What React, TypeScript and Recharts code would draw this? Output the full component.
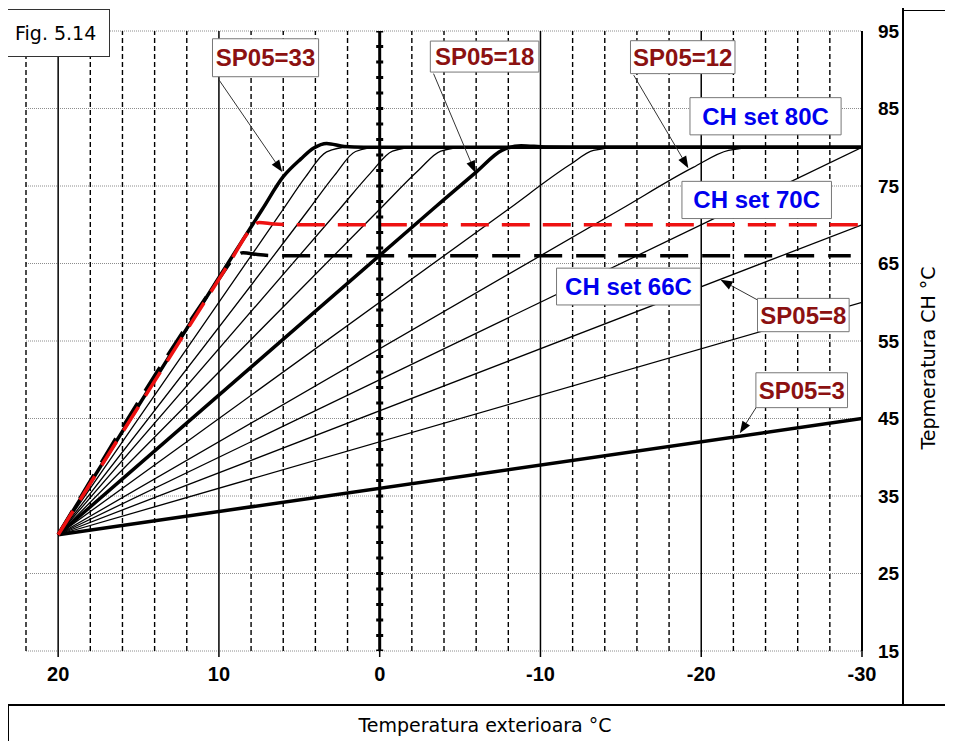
import React from 'react';
import { LineChart, Line, XAxis, YAxis, CartesianGrid, ReferenceLine, ReferenceArea } from 'recharts';

// heating curves: outside temperature t (°C) -> CH flow temperature v (°C)
const sp3 = [{ t: 20, v: 30 }, { t: -30, v: 45 }];
const sp6 = [{ t: 20, v: 30 }, { t: -30, v: 60 }];
const sp8 = [{ t: 20, v: 30 }, { t: -30, v: 70 }];
const sp10 = [{ t: 20, v: 30 }, { t: -30, v: 80 }];
const sp12 = [{ t: 20, v: 30 }, { t: -15, v: 72 }, { t: -19.5, v: 77.4 }, { t: -21.7, v: 79.6 }, { t: -23.5, v: 80 }, { t: -30, v: 80 }];
const sp15 = [{ t: 20, v: 30 }, { t: -8, v: 72 }, { t: -11.8, v: 77.7 }, { t: -13.3, v: 79.6 }, { t: -15, v: 80 }, { t: -30, v: 80 }];
const sp18 = [{ t: 20, v: 30 }, { t: -3.3, v: 72 }, { t: -6, v: 76.8 }, { t: -7.6, v: 79.6 }, { t: -8.8, v: 80.2 }, { t: -10.3, v: 80.03 }, { t: -12, v: 80 }, { t: -30, v: 80 }];
const sp21 = [{ t: 20, v: 30 }, { t: 0, v: 72 }, { t: -2.4, v: 77 }, { t: -3.8, v: 79.5 }, { t: -5.3, v: 80 }, { t: -30, v: 80 }];
const sp24 = [{ t: 20, v: 30 }, { t: 2.5, v: 72 }, { t: 0.6, v: 76.6 }, { t: -0.8, v: 79.5 }, { t: -2.2, v: 80 }, { t: -30, v: 80 }];
const sp27 = [{ t: 20, v: 30 }, { t: 4.4, v: 72 }, { t: 2.8, v: 76.4 }, { t: 1.5, v: 79.45 }, { t: 0.1, v: 80 }, { t: -30, v: 80 }];
const sp30 = [{ t: 20, v: 30 }, { t: 6, v: 72 }, { t: 4.6, v: 76.2 }, { t: 3.3, v: 79.4 }, { t: 2, v: 80 }, { t: -30, v: 80 }];
const sp33 = [{ t: 20, v: 30 }, { t: 7.3, v: 72 }, { t: 6, v: 76.2 }, { t: 4.9, v: 78.5 }, { t: 4.1, v: 79.9 }, { t: 3.3, v: 80.5 }, { t: 2.2, v: 80.1 }, { t: 1, v: 80 }, { t: -30, v: 80 }];
const set70 = [{ t: 20, v: 30 }, { t: 9.2, v: 65.6 }, { t: 8.1, v: 69.2 }, { t: 7.5, v: 70.3 }, { t: 6.6, v: 70.1 }, { t: 5.5, v: 70 }, { t: -30, v: 70 }];
const set66 = [{ t: 20, v: 30 }, { t: 10, v: 63 }, { t: 9.1, v: 65.6 }, { t: 8.5, v: 66.4 }, { t: 7.6, v: 66.15 }, { t: 6.5, v: 66 }, { t: -29.3, v: 66 }];

const xTicks = [20, 10, 0, -10, -20, -30];
const yTicks = [15, 25, 35, 45, 55, 65, 75, 85, 95];
const xSolid = [20, 10, -10, -20];
const xDashed = [22, 18, 16, 14, 12, 8, 6, 4, 2, -2, -4, -6, -8, -12, -14, -16, -18, -22, -24, -26, -28];

const thinCurves = [sp6, sp8, sp10, sp12, sp15, sp21, sp24, sp27, sp30];
const thickCurves = [sp3, sp18, sp33];

// label boxes (data units) and arrows from box to curve
const spNotes = [
  { text: 'SP05=33', x1: 10.4, x2: 3.8, y1: 89.1, y2: 94 },
  { text: 'SP05=18', x1: -3.15, x2: -9.9, y1: 89.7, y2: 93.7 },
  { text: 'SP05=12', x1: -15.6, x2: -22.1, y1: 89.5, y2: 93.75 },
  { text: 'SP05=8', x1: -23.5, x2: -29.2, y1: 56.2, y2: 60.5 },
  { text: 'SP05=3', x1: -23.4, x2: -29.1, y1: 46.4, y2: 50.9 },
];
const setNotes = [
  { text: 'CH set 80C', x1: -19.3, x2: -28.7, y1: 81.6, y2: 86.4 },
  { text: 'CH set 70C', x1: -18.8, x2: -28.1, y1: 70.8, y2: 75.6 },
  { text: 'CH set 66C', x1: -11, x2: -19.95, y1: 59.65, y2: 64.4 },
];
const arrows = [
  { from: { t: 10, v: 88.7 }, to: { t: 6.06, v: 76.8 } },
  { from: { t: -3.35, v: 89.5 }, to: { t: -5.95, v: 76.7 } },
  { from: { t: -15.8, v: 89.3 }, to: { t: -19.2, v: 77.3 } },
  { from: { t: -23.5, v: 60.3 }, to: { t: -21.2, v: 62.9 } },
  { from: { t: -23.5, v: 46.7 }, to: { t: -22.4, v: 43.1 } },
];

const arial = 'Liberation Sans, Arial, sans-serif';
const gothic = 'DejaVu Sans, sans-serif';

const ArrowShape = (props: any) => {
  const { x1, y1, x2, y2 } = props;
  const a = Math.atan2(y2 - y1, x2 - x1);
  const len = 12;
  const half = 4.5;
  const bx = x2 - len * Math.cos(a);
  const by = y2 - len * Math.sin(a);
  const pts = `${x2},${y2} ${bx + half * Math.sin(a)},${by - half * Math.cos(a)} ${bx - half * Math.sin(a)},${by + half * Math.cos(a)}`;
  return (
    <g>
      <line x1={x1} y1={y1} x2={bx} y2={by} stroke="#333" strokeWidth={1} />
      <polygon points={pts} fill="#000" />
    </g>
  );
};

const App = () => {
  return (
    <div style={{ position: 'relative', width: 945, height: 733 }}>
      <div style={{ position: 'absolute', left: -2, top: -2, width: 898, height: 700, border: '2px solid #000', boxSizing: 'border-box' }} />
      <div style={{ position: 'absolute', left: 896, top: 2, width: 49, height: 696, borderTop: '1px solid #000', borderBottom: '2px solid #000', boxSizing: 'border-box' }} />
      <div style={{ position: 'absolute', left: 0, top: 697, width: 945, height: 44, borderLeft: '1px solid #000', boxSizing: 'border-box' }} />
      <div style={{ position: 'absolute', left: 0, top: 0 }}>
        <LineChart width={945} height={741} margin={{ top: 23, right: 0, bottom: 58, left: 18 }}>
          <CartesianGrid horizontal vertical={false} stroke="#8c8c8c" strokeDasharray="1 1" />
          <XAxis
            dataKey="t"
            type="number"
            domain={[-30, 22]}
            reversed
            ticks={xTicks}
            allowDataOverflow
            height={40}
            axisLine={false}
            tickLine={{ stroke: '#000', strokeWidth: 1.5 }}
            tickSize={6}
            tickMargin={10}
            tick={{ fill: '#000', fontSize: 20, fontWeight: 700, fontFamily: arial }}
          />
          <YAxis
            orientation="right"
            type="number"
            domain={[15, 95]}
            ticks={yTicks}
            width={91}
            axisLine={false}
            tickLine={false}
            tickSize={6}
            tickMargin={10}
            tick={{ fill: '#000', fontSize: 19, fontWeight: 700, fontFamily: arial }}
          />
          {xDashed.map((x) => (
            <ReferenceLine key={`d${x}`} x={x} stroke="#000" strokeWidth={1.4} strokeDasharray="5 3" />
          ))}
          {xSolid.map((x) => (
            <ReferenceLine key={`s${x}`} x={x} stroke="#000" strokeWidth={1.5} />
          ))}
          <ReferenceLine x={-30} stroke="#000" strokeWidth={2} />
          {thinCurves.map((d, i) => (
            <Line key={`thin${i}`} data={d} dataKey="v" type="monotone" stroke="#000" strokeWidth={1.3} dot={false} activeDot={false} isAnimationActive={false} />
          ))}
          {thickCurves.map((d, i) => (
            <Line key={`thick${i}`} data={d} dataKey="v" type="monotone" stroke="#000" strokeWidth={3.5} dot={false} activeDot={false} isAnimationActive={false} />
          ))}
          <Line data={set66} dataKey="v" type="monotone" stroke="#000" strokeWidth={3.5} strokeDasharray="28 14" dot={false} activeDot={false} isAnimationActive={false} />
          <Line data={set70} dataKey="v" type="monotone" stroke="#ee1111" strokeWidth={3.5} strokeDasharray="28 13" dot={false} activeDot={false} isAnimationActive={false} />
          <ReferenceLine x={0} stroke="#000" strokeWidth={3} zIndex={900} />
          <ReferenceLine x={0} stroke="#000" strokeWidth={7} strokeDasharray="3 12.5" strokeDashoffset={1.5} zIndex={900} />
          {arrows.map((a, i) => (
            <ReferenceLine key={`a${i}`} segment={[{ x: a.from.t, y: a.from.v }, { x: a.to.t, y: a.to.v }]} stroke="#333" shape={ArrowShape} zIndex={1000} />
          ))}
          {spNotes.map((n) => (
            <ReferenceArea
              key={n.text}
              x1={n.x1}
              x2={n.x2}
              y1={n.y1}
              y2={n.y2}
              fill="#fff"
              fillOpacity={1}
              stroke="#777"
              strokeWidth={1}
              zIndex={1100}
              label={{ value: n.text, position: 'center', fill: '#8b1111', fontSize: 24, fontWeight: 700, fontFamily: arial }}
            />
          ))}
          {setNotes.map((n) => (
            <ReferenceArea
              key={n.text}
              x1={n.x1}
              x2={n.x2}
              y1={n.y1}
              y2={n.y2}
              fill="#fff"
              fillOpacity={1}
              stroke="#777"
              strokeWidth={1}
              zIndex={1100}
              label={{ value: n.text, position: 'center', fill: '#0000ee', fontSize: 24, fontWeight: 700, fontFamily: arial }}
            />
          ))}
        </LineChart>
      </div>
      <div
        style={{
          position: 'absolute',
          left: -1,
          top: 1,
          width: 103,
          height: 48,
          background: '#fff',
          border: '1px solid #333',
          boxSizing: 'border-box',
          fontFamily: gothic,
          fontSize: 19,
          lineHeight: '46px',
          paddingLeft: 7,
        }}
      >
        Fig. 5.14
      </div>
      <div
        style={{
          position: 'absolute',
          left: 327,
          top: 708,
          width: 300,
          textAlign: 'center',
          fontFamily: gothic,
          fontSize: 19,
          lineHeight: '19px',
          whiteSpace: 'nowrap',
        }}
      >
        Temperatura exterioara °C
      </div>
      <div
        style={{
          position: 'absolute',
          left: 790,
          top: 338,
          width: 260,
          height: 24,
          lineHeight: '24px',
          textAlign: 'center',
          transform: 'rotate(-90deg)',
          fontFamily: gothic,
          fontSize: 19,
          whiteSpace: 'nowrap',
        }}
      >
        Tepmeratura CH °C
      </div>
    </div>
  );
};

export default App;
